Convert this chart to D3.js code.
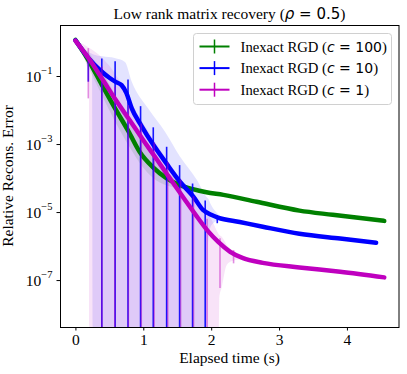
<!DOCTYPE html>
<html>
<head>
<meta charset="utf-8">
<script src="https://cdn.jsdelivr.net/npm/d3@7"></script>
<style>
  body { margin: 0; background: #fff; }
  text { font-family: "Liberation Serif", "Times New Roman", serif; }
  .math { font-family: "DejaVu Sans", sans-serif; }
</style>
</head>
<body>
<div id="plot-area"></div>
<script>
// values
const xTicks = [0, 1, 2, 3, 4];
const yTicks = [1e-1, 1e-3, 1e-5, 1e-7];

// c = 100 (green)
const greenT = [0, 0.19, 0.39, 0.58, 0.78, 0.95, 1.14, 1.34, 1.54, 1.73, 1.93, 2.18, 2.67, 3.3, 3.79, 4.55];
const greenV = [1.15, 2.95e-1, 5.5e-2, 1.15e-2, 2.4e-3, 5.75e-4, 2.1e-4, 1.0e-4, 6.2e-5, 4.7e-5, 3.8e-5, 3.2e-5, 2.0e-5, 1.1e-5, 8.3e-6, 5.5e-6];
const greenBandT = [0, 0.19, 0.4, 0.6, 0.8, 1.0, 1.2, 1.4, 1.6, 1.8];
const greenBandHi = [1.15, 5.0e-1, 1.26e-1, 2.5e-2, 5.0e-3, 1.0e-3, 2.8e-4, 1.26e-4, 6.6e-5, 4.2e-5];
const greenBandLo = [1.15, 1.8e-1, 2.5e-2, 4.0e-3, 8.0e-4, 2.0e-4, 8.3e-5, 5.6e-5, 4.7e-5, 4.2e-5];

// c = 10 (blue)
const blueT = [0, 0.19, 0.36, 0.5, 0.6, 0.68, 0.75, 0.83, 0.97, 1.15, 1.34, 1.54, 1.74, 1.88, 2.0, 2.1, 2.42, 2.76, 3.3, 3.9, 4.43];
const blueV = [1.12, 3.4e-1, 1.5e-1, 8.9e-2, 6.6e-2, 5.4e-2, 3.2e-2, 1.12e-2, 3.5e-3, 9.3e-4, 2.7e-4, 7.8e-5, 2.8e-5, 1.15e-5, 8.3e-6, 6.9e-6, 5.1e-6, 3.7e-6, 2.3e-6, 1.66e-6, 1.26e-6];
const blueBandT = [0, 0.19, 0.245, 0.255, 0.4, 0.58, 0.73, 0.83, 1.07, 1.32, 1.54, 1.79, 1.93, 1.945, 1.955, 2.0, 2.1, 2.2];
const blueBandHi = [1.12, 5.0e-1, 4.5e-1, 4.4e-1, 3.8e-1, 3.4e-1, 2.6e-1, 6.8e-2, 1.12e-2, 2.3e-3, 4.3e-4, 8.7e-5, 2.8e-5, 2.6e-5, 2.5e-5, 1.6e-5, 8.7e-6, 6.0e-6];
const blueBandLo = [1.12, 2.5e-1, 1.3e-1, 0, 0, 0, 0, 0, 0, 0, 0, 0, 0, 0, 1.3e-6, 4.0e-6, 5.6e-6, 6.0e-6];
const blueBarT = [0.19, 0.389, 0.585, 0.775, 0.96, 1.147, 1.344, 1.535, 1.726, 1.912, 2.09];
const blueBarHi = [2.75e-1, 3.3e-1, 2.7e-1, 7.9e-2, 1.3e-2, 3.1e-3, 8.3e-4, 2.4e-4, 6.9e-5, 2.2e-5, 8.1e-6];
const blueBarLo = [6.8e-2, 0, 0, 0, 0, 0, 0, 0, 0, 0, 4.7e-6];

// c = 1 (magenta)
const magT = [0, 0.2, 0.4, 0.6, 0.8, 1.0, 1.2, 1.4, 1.6, 1.8, 1.95, 2.1, 2.28, 2.47, 2.76, 3.3, 3.9, 4.55];
const magV = [1.1, 3.2e-1, 7.9e-2, 1.9e-2, 5.0e-3, 1.3e-3, 3.5e-4, 9.3e-5, 2.5e-5, 6.9e-6, 2.8e-6, 1.35e-6, 6.8e-7, 4.4e-7, 3.2e-7, 2.35e-7, 1.75e-7, 1.2e-7];
const magBandT = [0, 0.19, 0.2, 0.205, 0.3, 0.5, 1.0, 1.5, 2.0, 2.113, 2.12, 2.153, 2.227, 2.3, 2.373, 2.5, 2.7];
const magBandHi = [1.1, 7.0e-1, 6.8e-1, 6.7e-1, 5.0e-1, 2.0e-1, 4.0e-3, 1.26e-4, 6.3e-6, 2.2e-6, 2.1e-6, 1.9e-6, 1.1e-6, 7.9e-7, 6.5e-7, 4.7e-7, 3.5e-7];
const magBandLo = [1.1, 1.26e-1, 6.3e-2, 0, 0, 0, 0, 0, 0, 0, 3.2e-8, 5.8e-8, 2.75e-7, 3.6e-7, 3.9e-7, 4.0e-7, 3.3e-7];
const magBarT = [0.19, 0.39, 0.58, 0.78, 0.97, 1.16, 1.36, 1.55, 1.74, 1.94, 2.13, 2.33];
const magBarHi = [6.6e-1, 1.9e-1, 4.8e-2, 1.4e-2, 4.0e-3, 1.1e-3, 3.0e-4, 9.1e-5, 2.9e-5, 6.3e-6, 1.7e-6, 7.6e-7];
const magBarLo = [2.2e-2, 0, 0, 0, 0, 0, 0, 0, 0, 0, 5.8e-8, 3.1e-7];

const series = [
  { label: "100", color: "#008000", t: greenT, v: greenV, bt: greenBandT, hi: greenBandHi, lo: greenBandLo, et: [], eh: [], el: [], barOpacity: 1 },
  { label: "10", color: "#0000ff", t: blueT, v: blueV, bt: blueBandT, hi: blueBandHi, lo: blueBandLo, et: blueBarT, eh: blueBarHi, el: blueBarLo, barOpacity: 0.9 },
  { label: "1", color: "#bf00bf", t: magT, v: magV, bt: magBandT, hi: magBandHi, lo: magBandLo, et: magBarT, eh: magBarHi, el: magBarLo, barOpacity: 0.45 }
];

const w = 407;
const h = 374;
const margin = { top: 25, right: 8, bottom: 47, left: 60 };
const width = w - margin.left - margin.right;
const height = h - margin.top - margin.bottom;

const svg = d3
  .select("#plot-area")
  .append("svg")
  .attr("width", w)
  .attr("height", h)
  .append("g")
  .attr("transform", `translate(${margin.left}, ${margin.top})`);

const x = d3.scaleLinear().domain([-0.227, 4.767]).range([0, width]);
const y = d3.scaleLog().domain([Math.pow(10, -8.38), Math.pow(10, 0.5)]).range([height, 0]).clamp(true);
// nonpositive values fall off the bottom of the log axis
const yv = (v) => (v > 0 ? y(v) : height + 2);

svg.append("defs").append("clipPath").attr("id", "clip")
  .append("rect").attr("width", width).attr("height", height);
const plot = svg.append("g").attr("clip-path", "url(#clip)");

// shaded bands
series.forEach((s) => {
  const area = d3
    .area()
    .x((d, i) => x(s.bt[i]))
    .y0((d, i) => yv(s.lo[i]))
    .y1((d, i) => yv(s.hi[i]))
    .curve(d3.curveMonotoneX);
  plot.append("path")
    .datum(s.bt)
    .attr("d", area)
    .attr("fill", s.color)
    .attr("fill-opacity", 0.11)
    .attr("stroke", "none");
});

// error bars and mean lines
series.forEach((s) => {
  plot.selectAll(null)
    .data(s.et)
    .enter()
    .append("line")
    .attr("x1", (d) => x(d))
    .attr("x2", (d) => x(d))
    .attr("y1", (d, i) => yv(s.eh[i]))
    .attr("y2", (d, i) => yv(s.el[i]))
    .attr("stroke", s.color)
    .attr("stroke-opacity", s.barOpacity)
    .attr("stroke-width", 1.6);

  plot.append("path")
    .datum(s.t)
    .attr("d", d3.line().x((d) => x(d)).y((d, i) => y(s.v[i])).curve(d3.curveMonotoneX))
    .attr("fill", "none")
    .attr("stroke", s.color)
    .attr("stroke-width", 4.5)
    .attr("stroke-linecap", "round")
    .attr("stroke-linejoin", "round");
});

// axes
const xAxis = d3.axisBottom(x).tickValues(xTicks).tickSize(3.5).tickPadding(3).tickFormat(d3.format("d"));
const gx = svg.append("g").attr("transform", `translate(0, ${height})`).call(xAxis);
gx.select(".domain").remove();
gx.selectAll("text").attr("font-size", 15.5).attr("font-family", "Liberation Serif").attr("fill", "#000");
gx.selectAll("line").attr("stroke", "#000");

const yAxis = d3.axisLeft(y).tickValues(yTicks).tickSize(3.5).tickPadding(4).tickFormat("");
const gy = svg.append("g").call(yAxis);
gy.select(".domain").remove();
gy.selectAll("line").attr("stroke", "#000");
gy.selectAll(".tick").each(function (d) {
  const t = d3.select(this).select("text").attr("font-size", 15.5).attr("fill", "#000").attr("dy", "0.35em");
  t.append("tspan").text("10");
  t.append("tspan").attr("font-size", 10.5).attr("dy", "-0.8em").text("\u2212" + Math.round(-Math.log10(d)));
});

svg.append("rect")
  .attr("x", 0.5).attr("y", 0.5)
  .attr("width", width - 0.5).attr("height", height)
  .attr("fill", "none").attr("stroke", "#000").attr("stroke-width", 1);

// labels
const title = svg.append("text")
  .attr("x", width / 2).attr("y", -6)
  .attr("text-anchor", "middle").attr("font-size", 15.5);
title.append("tspan").text("Low rank matrix recovery (");
title.append("tspan").attr("class", "math").attr("font-style", "italic").attr("font-size", 15).text("\u03c1");
title.append("tspan").attr("class", "math").attr("font-size", 15).text(" = 0.5");
title.append("tspan").text(")");

svg.append("text")
  .attr("x", width / 2).attr("y", height + 36)
  .attr("text-anchor", "middle").attr("font-size", 15.5)
  .text("Elapsed time (s)");

svg.append("text")
  .attr("transform", `translate(${-47}, ${height / 2}) rotate(-90)`)
  .attr("text-anchor", "middle").attr("font-size", 15.5)
  .text("Relative Recons. Error");

// legend
const lg = svg.append("g").attr("transform", `translate(${133.5}, ${8.5})`);
lg.append("rect")
  .attr("width", 198).attr("height", 71).attr("rx", 3)
  .attr("fill", "#fff").attr("fill-opacity", 0.8)
  .attr("stroke", "#d0d0d0").attr("stroke-width", 1);
series.forEach((s, i) => {
  const yy = 13 + i * 21.6;
  lg.append("line").attr("x1", 6).attr("x2", 36).attr("y1", yy).attr("y2", yy)
    .attr("stroke", s.color).attr("stroke-width", 2);
  lg.append("line").attr("x1", 21).attr("x2", 21).attr("y1", yy - 7).attr("y2", yy + 7)
    .attr("stroke", s.color).attr("stroke-width", 1.5);
  const t = lg.append("text").attr("x", 47).attr("y", yy + 5).attr("font-size", 14.7);
  t.append("tspan").text("Inexact RGD (");
  t.append("tspan").attr("class", "math").attr("font-style", "italic").attr("font-size", 14).text("c");
  t.append("tspan").attr("class", "math").attr("font-size", 14).text(" = " + s.label);
  t.append("tspan").text(")");
});
</script>
</body>
</html>
